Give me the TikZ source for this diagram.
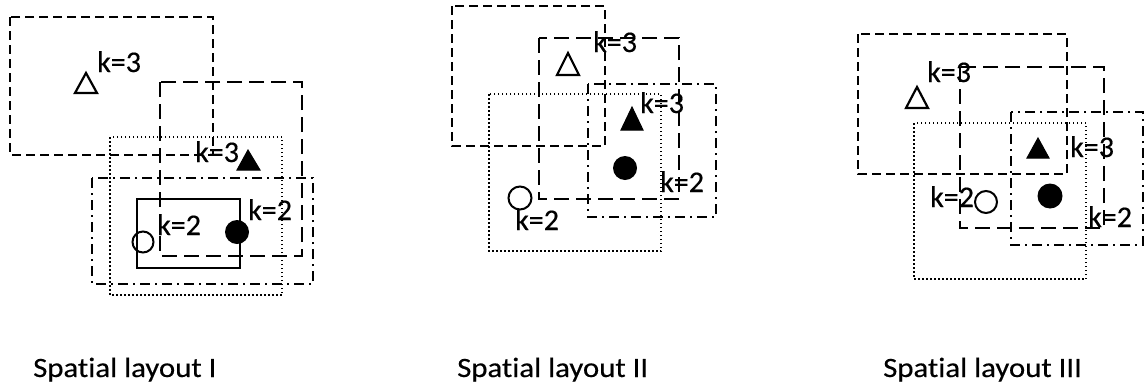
\documentclass[tikz,border=0pt]{standalone}
\usepackage{fontspec}
\setmainfont{Carlito}
\newfontfamily\capfont[FakeStretch=1.1,FakeBold=0.4,Ligatures=NoCommon]{Carlito}
\newfontfamily\lblfont[FakeBold=0.4]{Carlito}
\begin{document}
\begin{tikzpicture}[x=1pt,y=-1pt,
  sdash/.style={draw, line width=2.6pt, dash pattern=on 9pt off 5pt},
  ldash/.style={draw, line width=2.6pt, dash pattern=on 15pt off 7pt},
  dashdot/.style={draw, line width=2.6pt, dash pattern=on 10pt off 5pt on 2pt off 5pt},
  dots/.style={draw, line width=1.8pt, dash pattern=on 1.5pt off 2.5pt},
  solidbox/.style={draw, line width=2.2pt},
  lbl/.style={anchor=base west, inner sep=0pt, font=\lblfont\fontsize{30}{32}\selectfont},
  captxt/.style={anchor=base west, inner sep=0pt, font=\capfont\fontsize{28}{30}\selectfont},
  opentri/.style={draw, line width=2.2pt, line join=miter},
  filltri/.style={fill=black, draw, line width=1pt},
]
\useasboundingbox (0,0) rectangle (1147,386);
% ---------- Panel I ----------
\draw[sdash] (10,17) rectangle (213,155);
\draw[ldash] (160,82) rectangle (302,256);
\draw[dots] (110,137) rectangle (282,295);
\draw[dashdot] (92,178) rectangle (313,284);
\draw[solidbox] (137,199) rectangle (240,268);
\draw[opentri] (75,93) -- (97,93) -- (86,73) -- cycle;
\draw[filltri] (237,170) -- (260,170) -- (248,150) -- cycle;
\node[draw, circle, line width=2pt, minimum size=21pt, inner sep=0pt] (c1) at (143,242) {};
\node[fill=black, circle, minimum size=24pt, inner sep=0pt] (f1) at (237,232) {};
\node[lbl] (l1a) at (97,72) {k=3};
\node[lbl] (l1b) at (195,162) {k=3};
\node[lbl] (l1c) at (248,220) {k=2};
\node[lbl] (l1d) at (157,235) {k=2};
\node[captxt] (cap1) at (33,377) {Spat\kern0pt ial layout I};
% ---------- Panel II ----------
\draw[sdash] (452,6) rectangle (605,146);
\draw[ldash] (539,38) rectangle (679,199);
\draw[dashdot] (588,84) rectangle (716,217);
\draw[dots] (489,94) rectangle (661,251);
\draw[opentri] (557,75) -- (579,75) -- (568,53) -- cycle;
\draw[filltri] (621,130) -- (643,130) -- (632,107) -- cycle;
\node[draw, circle, line width=2pt, minimum size=23pt, inner sep=0pt] (c2) at (520,198) {};
\node[fill=black, circle, minimum size=24pt, inner sep=0pt] (f2) at (625,168) {};
\node[lbl] (l2a) at (593,52) {k=3};
\node[lbl] (l2b) at (640,113) {k=3};
\node[lbl] (l2c) at (660,192) {k=2};
\node[lbl] (l2d) at (515,230) {k=2};
\node[captxt] (cap2) at (457,377) {Spat\kern0pt ial layout II};
% ---------- Panel III ----------
\draw[sdash] (858,34) rectangle (1067,174);
\draw[ldash] (960,67) rectangle (1104,228);
\draw[dashdot] (1011,112) rectangle (1143,245);
\draw[dots] (914,123) rectangle (1086,279);
\draw[opentri] (906,108) -- (928,108) -- (917,87) -- cycle;
\draw[filltri] (1027,158) -- (1049,158) -- (1038,138) -- cycle;
\node[draw, circle, line width=2pt, minimum size=22pt, inner sep=0pt] (c3) at (986,202) {};
\node[fill=black, circle, minimum size=25pt, inner sep=0pt] (f3) at (1050,196) {};
\node[lbl] (l3a) at (927,82) {k=3};
\node[lbl] (l3b) at (1070,157) {k=3};
\node[lbl] (l3c) at (1088,227) {k=2};
\node[lbl] (l3d) at (930,207) {k=2};
\node[captxt] (cap3) at (883,377) {Spat\kern0pt ial layout III};
\end{tikzpicture}
\end{document}
